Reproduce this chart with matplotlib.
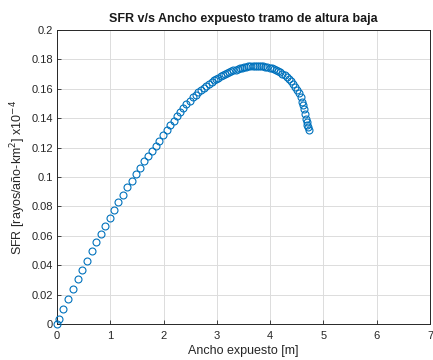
import matplotlib
matplotlib.use("Agg")
import matplotlib.pyplot as plt

ancho = [0.00, 0.04, 0.12, 0.21, 0.30, 0.39, 0.475, 0.56, 0.65, 0.73, 0.82, 0.905, 0.99,
         1.07, 1.15, 1.23, 1.32, 1.40, 1.48, 1.56, 1.64, 1.71, 1.78, 1.85, 1.92, 1.99,
         2.06, 2.13, 2.19, 2.25, 2.31, 2.37, 2.43, 2.49, 2.55, 2.60, 2.65, 2.70, 2.75,
         2.80, 2.85, 2.90, 2.95, 2.99, 3.03, 3.07, 3.11, 3.15, 3.19, 3.23, 3.27, 3.31,
         3.35, 3.39, 3.43, 3.47, 3.51, 3.55, 3.59, 3.63, 3.67, 3.71, 3.75, 3.79, 3.83,
         3.87, 3.91, 3.95, 3.99, 4.03, 4.07, 4.11, 4.15, 4.19, 4.23, 4.27, 4.31, 4.35,
         4.39, 4.43, 4.47, 4.51, 4.54, 4.57, 4.60, 4.62, 4.64, 4.66, 4.68, 4.69, 4.70,
         4.71, 4.72]
sfr = [0.0000, 0.0036, 0.0104, 0.0172, 0.0238, 0.0304, 0.0367, 0.0430, 0.0494, 0.0555,
       0.0612, 0.0670, 0.0723, 0.0778, 0.0830, 0.0880, 0.0930, 0.0975, 0.1020, 0.1063,
       0.1106, 0.1143, 0.1178, 0.1213, 0.1248, 0.1283, 0.1318, 0.1354, 0.1384, 0.1413,
       0.1441, 0.1469, 0.1494, 0.1518, 0.1541, 0.1559, 0.1576, 0.1592, 0.1607, 0.1621,
       0.1634, 0.1646, 0.1658, 0.1667, 0.1676, 0.1684, 0.1692, 0.1699, 0.1706, 0.1713,
       0.1719, 0.1725, 0.1730, 0.1735, 0.1739, 0.1743, 0.1747, 0.1750, 0.1753, 0.1755,
       0.1757, 0.1758, 0.1758, 0.1757, 0.1756, 0.1754, 0.1751, 0.1748, 0.1744, 0.1740,
       0.1735, 0.1729, 0.1722, 0.1714, 0.1704, 0.1693, 0.1680, 0.1665, 0.1650, 0.1634,
       0.1614, 0.1592, 0.1569, 0.1545, 0.1513, 0.1490, 0.1463, 0.1430, 0.1394, 0.1375,
       0.1356, 0.1338, 0.1322]

xticks = [0, 1, 2, 3, 4, 5, 6, 7]
yticks = [0, 0.02, 0.04, 0.06, 0.08, 0.1, 0.12, 0.14, 0.16, 0.18, 0.2]

plt.rcParams['font.family'] = ['Liberation Sans', 'DejaVu Sans']

fig = plt.figure(figsize=(4.33, 3.6), dpi=100)
ax = fig.add_axes([57/433, 36/360, 373/433, 294/360])

ax.plot(ancho, sfr, linestyle='none', marker='o', markersize=5,
        markerfacecolor='none', markeredgecolor='#0072BD', markeredgewidth=0.8,
        clip_on=False, zorder=3)

ax.set_xlim(0, 7)
ax.set_ylim(0, 0.2)
ax.set_xticks(xticks)
ax.set_xticklabels([str(v) for v in xticks])
ax.set_yticks(yticks)
ax.set_yticklabels(['0' if v == 0 else ('%g' % v) for v in yticks])

ax.grid(True, color='#dcdcdc', linewidth=0.7)
ax.set_axisbelow(True)
for s in ax.spines.values():
    s.set_color('#262626')
    s.set_linewidth(0.7)
ax.tick_params(axis='both', direction='in', length=3, width=0.6, colors='#262626',
               labelsize=8, top=False, right=False)
ax.tick_params(axis='x', pad=5)
ax.tick_params(axis='y', pad=3)

ax.set_title('SFR v/s Ancho expuesto tramo de altura baja', fontsize=9,
             fontweight='bold', color='#1a1a1a', pad=6)
ax.set_xlabel('Ancho expuesto [m]', fontsize=9, color='#262626', labelpad=3)
ax.set_ylabel(r'SFR [rayos/año-km$^2$] x10$^{-4}$', fontsize=9, color='#262626',
              labelpad=2)

fig.savefig('out.png', dpi=100)
